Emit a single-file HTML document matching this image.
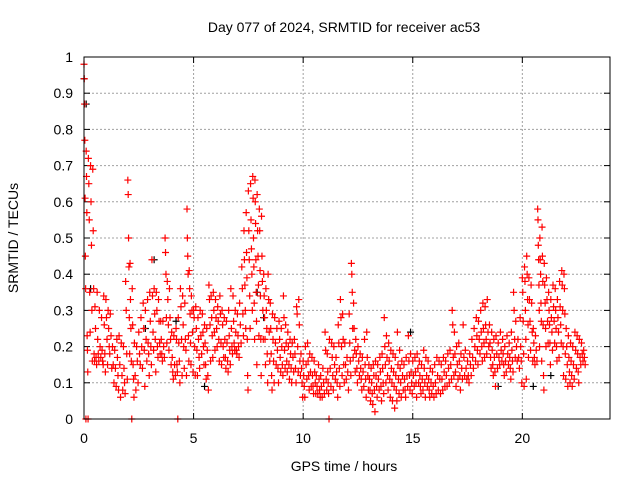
<!DOCTYPE html>
<html><head><meta charset="utf-8"><style>
html,body{margin:0;padding:0;background:#fff}
svg{display:block;font-family:"Liberation Sans",sans-serif}
</style></head><body>
<svg id="chart" width="640" height="480" viewBox="0 0 640 480">
<rect width="640" height="480" fill="#fff"/>
<g id="grid"></g>
<g id="ticks"></g>
<g id="blackPts"></g>
<g id="redPts"></g>
<rect x="84" y="57" width="526" height="362" fill="none" stroke="#000" stroke-width="1"/>
<text x="344" y="32" text-anchor="middle" font-size="14">Day 077 of 2024, SRMTID for receiver ac53</text>
<text x="344" y="471" text-anchor="middle" font-size="14">GPS time / hours</text>
<text transform="translate(18,238) rotate(-90)" text-anchor="middle" font-size="14">SRMTID / TECUs</text>
</svg>
<script>
const xTicks=[0,5,10,15,20];
const yTicks=[0,0.1,0.2,0.3,0.4,0.5,0.6,0.7,0.8,0.9,1];
const yTickLabels=["0","0.1","0.2","0.3","0.4","0.5","0.6","0.7","0.8","0.9","1"];
const groupHours=[0.0,0.1,0.2,0.3,0.4,0.5,0.6,0.7,0.8,0.9,1.0,1.1,1.2,1.3,1.4,1.5,1.6,1.7,1.8,1.9,2.0,2.1,2.2,2.3,2.4,2.5,2.6,2.7,2.8,2.9,3.0,3.1,3.2,3.3,3.4,3.5,3.6,3.7,3.8,3.9,4.0,4.1,4.2,4.3,4.4,4.5,4.6,4.7,4.8,4.9,5.0,5.1,5.2,5.3,5.4,5.5,5.6,5.7,5.8,5.9,6.0,6.1,6.2,6.3,6.4,6.5,6.6,6.7,6.8,6.9,7.0,7.1,7.2,7.3,7.4,7.5,7.6,7.7,7.8,7.9,8.0,8.1,8.2,8.3,8.4,8.5,8.6,8.7,8.8,8.9,9.0,9.1,9.2,9.3,9.4,9.5,9.6,9.7,9.8,9.9,10.0,10.1,10.2,10.3,10.4,10.5,10.6,10.7,10.8,10.9,11.0,11.1,11.2,11.3,11.4,11.5,11.6,11.7,11.8,11.9,12.0,12.1,12.2,12.3,12.4,12.5,12.6,12.7,12.8,12.9,13.0,13.1,13.2,13.3,13.4,13.5,13.6,13.7,13.8,13.9,14.0,14.1,14.2,14.3,14.4,14.5,14.6,14.7,14.8,14.9,15.0,15.1,15.2,15.3,15.4,15.5,15.6,15.7,15.8,15.9,16.0,16.1,16.2,16.3,16.4,16.5,16.6,16.7,16.8,16.9,17.0,17.1,17.2,17.3,17.4,17.5,17.6,17.7,17.8,17.9,18.0,18.1,18.2,18.3,18.4,18.5,18.6,18.7,18.8,18.9,19.0,19.1,19.2,19.3,19.4,19.5,19.6,19.7,19.8,19.9,20.0,20.1,20.2,20.3,20.4,20.5,20.6,20.7,20.8,20.9,21.0,21.1,21.2,21.3,21.4,21.5,21.6,21.7,21.8,21.9,22.0,22.1,22.2,22.3,22.4,22.5,22.6,22.7,22.8];
const groupValues=[
[.98,.94,.87,.77,.61,.45,.36,0],[.74,.67,.57,.23,.19,.13,0],[.72,.65,.55,.35,.24],[.70,.60,.48,.30,.16],[.69,.52,.36,.18,.16],[.31,.25,.17,.15],[.35,.22,.18,.16],[.30,.20,.17],[.28,.19,.16,.15],[.34,.26,.18,.13],
[.33,.28,.22,.15],[.30,.25,.20,.18],[.29,.23,.14],[.20,.15,.10],[.19,.14,.09],[.22,.17,.12,.08],[.23,.15,.06],[.21,.12,.08],[.20,.14,.10,.07],[.38,.30,.18,.11],
[.66,.62,.50,.42,.28,.18],[.43,.33,.25,.16,0],[.36,.26,.15,.11,.06],[.21,.12,.08],[.20,.16,.10],[.24,.18,.15],[.28,.20,.14],[.32,.25,.19,.09],[.30,.22,.16],[.33,.21,.18,.12],
[.35,.27,.20,.15],[.44,.34,.24,.19],[.36,.29,.22,.13],[.35,.30,.20,.17],[.33,.27,.21,.18],[.27,.22,.18,.16],[.27,.20,.17],[.50,.46,.40,.28,.21],[.38,.33,.26,.19],[.36,.28,.22,.15],
[.24,.17,.13,.11],[.23,.15,.12],[.25,.22,.15,.13,0],[.28,.21,.16,.10],[.36,.31,.22,.12],[.34,.26,.20,.14],[.32,.22,.19,.12],[.58,.50,.45,.40,.23,.16],[.41,.36,.29,.21,.15],[.34,.30,.24,.13],
[.30,.28,.20,.12],[.31,.25,.19,.12],[.28,.22,.17,.14],[.30,.23,.18],[.29,.24,.20,.15],[.26,.21,.15,.11],[.25,.19,.12,.08],[.37,.33,.26,.16],[.34,.28,.23,.17],[.35,.30,.24,.19],
[.33,.28,.25,.20],[.31,.27,.22,.16],[.34,.29,.21,.15],[.30,.26,.20,.17],[.28,.22,.17,.14],[.27,.21,.16,.13],[.30,.23,.19,.15],[.36,.25,.20,.18],[.34,.27,.21,.19],[.30,.24,.19,.18],
[.29,.23,.20,.17],[.32,.26,.21],[.42,.36,.29,.23],[.52,.44,.37,.30,.25],[.57,.46,.39,.22,.12,.08],[.63,.52,.44,.34,.25],[.65,.55,.47,.40,.30],[.67,.61,.50,.42,.32,.22],[.66,.60,.54,.44,.35,.27,.15],[.62,.52,.45,.37,.23],
[.58,.52,.41,.34,.22,.12],[.56,.45,.38,.30,.22],[.40,.34,.28,.22,.15],[.36,.30,.25,.18,.10],[.40,.33,.24,.16],[.32,.25,.18,.12,.08],[.29,.22,.16,.10],[.28,.21,.15],[.25,.19,.14,.10],[.27,.22,.17,.13],
[.25,.20,.15,.12],[.34,.28,.19,.14],[.26,.21,.16,.13],[.24,.20,.15,.11],[.22,.18,.14,.10],[.21,.17,.13],[.22,.18,.14,.10],[.31,.29,.20,.13],[.33,.26,.16,.12],[.18,.14,.10,.06],
[.16,.12,.09,.06],[.20,.15,.11],[.21,.16,.12,.08],[.18,.13,.09],[.17,.12,.09,.07],[.16,.13,.10,.07],[.12,.09,.07],[.15,.11,.08,.06],[.12,.09,.06],[.14,.10,.07],
[.24,.19,.11,.08],[.18,.13,.10,.07,0],[.22,.14,.09],[.21,.17,.12,.08],[.20,.15,.11],[.17,.13,.10,.06],[.26,.21,.14,.09],[.33,.28,.20,.12],[.29,.22,.15,.10],[.21,.15,.11],
[.17,.13,.08],[.29,.21,.16,.12],[.43,.40,.35,.25,.17],[.32,.25,.19,.13],[.22,.18,.14,.10],[.20,.16,.12],[.18,.14,.11,.08],[.17,.13,.09],[.22,.15,.11,.06],[.24,.17,.12,.08],
[.15,.11,.08,.05],[.14,.10,.07,.04],[.15,.12,.08,.02],[.16,.12,.09,.06],[.15,.11,.08],[.17,.13,.09,.05],[.18,.14,.10,.07],[.28,.20,.15,.10],[.23,.17,.12,.08],[.21,.16,.11,.06],
[.19,.14,.10,.05],[.18,.13,.09,.03],[.17,.12,.08,.05],[.24,.15,.11,.07],[.19,.14,.10,.06],[.16,.12,.08],[.15,.11,.08,.06],[.17,.12,.09],[.23,.16,.12,.08],[.18,.13,.10,.07],
[.16,.12,.09],[.17,.13,.10,.06],[.18,.14,.10],[.16,.12,.09,.07],[.15,.11,.08],[.19,.14,.10,.06],[.17,.12,.09],[.16,.11,.08,.06],[.14,.10,.07],[.13,.09,.06],
[.15,.10,.07],[.17,.12,.08],[.16,.11,.07],[.15,.11,.08],[.17,.13,.09],[.16,.12,.09],[.18,.14,.10],[.19,.15,.11],[.30,.26,.17,.12],[.24,.18,.13,.09],
[.20,.15,.11],[.21,.16,.12,.08],[.18,.14,.11],[.26,.17,.12],[.19,.14,.11],[.16,.12,.10],[.18,.15,.12],[.22,.17,.14],[.25,.20,.16],[.28,.23,.19,.15],
[.27,.22,.18],[.30,.24,.20,.16],[.32,.25,.21,.17],[.31,.26,.22,.18],[.33,.24,.20],[.26,.21,.17,.14],[.24,.19,.15,.12],[.22,.17,.13,.09],[.23,.18,.14],[.21,.17,.15],
[.24,.19,.16],[.22,.18,.15,.12],[.20,.16,.13],[.23,.18,.15],[.21,.17,.14,.11],[.24,.19,.16,.13],[.35,.30,.22,.17],[.27,.20,.16],[.22,.17,.14],[.28,.20,.16,.10],
[.39,.35,.27,.18,.09],[.42,.38,.30,.22,.11],[.45,.40,.33,.26,.17],[.39,.33,.27,.19],[.37,.32,.24,.16],[.25,.21,.17,.15],[.23,.19,.16],[.58,.55,.48,.44,.37,.30,.20],[.50,.44,.40,.32,.27,.16],[.53,.45,.38,.26,.12,.08],
[.43,.37,.32,.25,.20],[.39,.33,.27,.21],[.35,.30,.26,.21,.15],[.33,.28,.24,.19],[.37,.31,.27,.21],[.36,.30,.25,.20,.16],[.33,.28,.24,.17],[.38,.31,.26,.21],[.41,.37,.30,.20,.12],[.40,.36,.29,.18,.11],
[.25,.20,.15,.09],[.23,.17,.13,.10],[.21,.16,.12,.09],[.20,.15,.11],[.24,.19,.14],[.23,.18,.13,.10],[.22,.17,.15],[.21,.18,.16],[.19,.17,.15]
];
const blackHours=[0.0,0.1,0.3,2.8,3.2,4.2,5.5,7.9,8.2,14.9,18.9,20.5,21.3];
const blackValues=[0.94,0.87,0.36,0.25,0.44,0.27,0.09,0.35,0.28,0.24,0.09,0.09,0.12];

const L=84,R=610,T=57,B=419;
const xS=h=>L+(h/24)*(R-L);
const yS=v=>B-v*(B-T);
const NS="http://www.w3.org/2000/svg";
const grid=document.getElementById('grid'),ticks=document.getElementById('ticks');
function mk(tag,attrs,parent){const e=document.createElementNS(NS,tag);for(const k in attrs)e.setAttribute(k,attrs[k]);parent.appendChild(e);return e;}
xTicks.forEach(t=>{
  const x=xS(t);
  if(t>0){const g=mk('line',{x1:x,y1:T,x2:x,y2:B,stroke:'#a0a0a0','stroke-dasharray':'2,2'},grid);
  
  }
  const a=mk('line',{x1:x,y1:B,x2:x,y2:B-6,stroke:'#000'},ticks);
  
  
  const b=mk('line',{x1:x,y1:T,x2:x,y2:T+6,stroke:'#000'},ticks);
  
  
  const tx=mk('text',{x:x,y:B+24,'text-anchor':'middle','font-size':'14'},ticks);tx.textContent=String(t);
  
  
});
yTicks.forEach((v,i)=>{
  const y=yS(v);
  if(v>0&&v<1){const g=mk('line',{x1:L,y1:y,x2:R,y2:y,stroke:'#a0a0a0','stroke-dasharray':'2,2'},grid);
  
  }
  const a=mk('line',{x1:L,y1:y,x2:L+6,y2:y,stroke:'#000'},ticks);
  
  
  const b=mk('line',{x1:R,y1:y,x2:R-6,y2:y,stroke:'#000'},ticks);
  
  
  const tx=mk('text',{x:L-11,y:y+5,'text-anchor':'end','font-size':'14'},ticks);tx.textContent=yTickLabels[i];
  
  
});
function plus(x,y,color,parent){
  return mk('path',{d:`M${x-3.5},${y}H${x+3.5}M${x},${y-3.5}V${y+3.5}`,stroke:color,'stroke-width':'1.2',fill:'none'},parent);
}
const bg=document.getElementById('blackPts');
blackHours.forEach((h,i)=>{
  const p=plus(xS(h),yS(blackValues[i]),'#000',bg);
  
  
});
const rg=document.getElementById('redPts');
groupHours.forEach((h,i)=>{
  const vals=groupValues[i];
  vals.forEach((v,j)=>{
    const off=(j/vals.length)*0.1;
    const p=plus(xS(h+off),yS(v),'#f00',rg);
    
    
  });
});
</script>
</body></html>
